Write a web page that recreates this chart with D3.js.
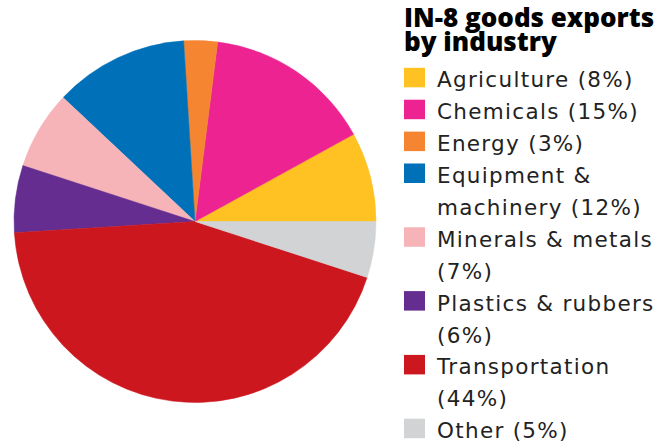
<!DOCTYPE html>
<html>
<head>
<meta charset="utf-8">
<script src="https://cdn.jsdelivr.net/npm/d3@7"></script>
<style>
  body { margin: 0; background: #fff; }
  svg { display: block; }
</style>
</head>
<body>
<div id="chart"></div>
<script>
const categories = ["Agriculture", "Chemicals", "Energy", "Equipment & machinery",
  "Minerals & metals", "Plastics & rubbers", "Transportation", "Other"];
const shares = [8, 15, 3, 12, 7, 6, 44, 5];
const colours = ["#FFC222", "#EC2390", "#F58530", "#0071B9",
  "#F6B4B9", "#642D8F", "#CC171E", "#D1D3D4"];
const titleLines = ["IN-8 goods exports", "by industry"];

const width = 672, height = 446;
const cx = 195, cy = 221.5, radius = 181;

const svg = d3.select("#chart").append("svg")
  .attr("width", width)
  .attr("height", height);

const items = categories.map((c, i) => ({ name: c, value: shares[i], col: colours[i] }));

// counter-clockwise from 3 o'clock
const pie = d3.pie()
  .value(d => d.value)
  .sort(null)
  .startAngle(Math.PI / 2)
  .endAngle(Math.PI / 2 - 2 * Math.PI);

const arc = d3.arc().innerRadius(0).outerRadius(radius);

svg.append("g")
  .attr("transform", "translate(" + cx + "," + cy + ")")
  .selectAll("path")
  .data(pie(items))
  .enter()
  .append("path")
  .attr("d", arc)
  .attr("fill", d => d.data.col)
  .attr("stroke", d => d.data.col)
  .attr("stroke-width", 0.5);

// title
const title = svg.append("text")
  .attr("x", 404)
  .attr("font-family", "'Open Sans', sans-serif")
  .attr("font-weight", 800)
  .attr("font-size", 26)
  .attr("fill", "#000");
titleLines.forEach((t, i) => {
  title.append("tspan").attr("x", 404).attr("y", 26.5 + i * 24).text(t);
});

// legend
const lineH = 31.9, textX = 437, maxW = 233;
const legend = svg.append("g");
let line = 0;
items.forEach(d => {
  const baseY = 87.3 + line * lineH;
  legend.append("rect")
    .attr("x", 404).attr("y", baseY - 19.5)
    .attr("width", 21).attr("height", 19.5)
    .attr("fill", d.col);
  const txt = legend.append("text")
    .attr("font-family", "'DejaVu Sans', sans-serif")
    .attr("font-size", 21.5)
    .attr("letter-spacing", 1.3)
    .attr("fill", "#222");
  const words = (d.name + " (" + d.value + "%)").split(" ");
  let tspan = txt.append("tspan").attr("x", textX).attr("y", baseY);
  let cur = [];
  words.forEach(w => {
    cur.push(w);
    tspan.text(cur.join(" "));
    if (tspan.node().getComputedTextLength() > maxW && cur.length > 1) {
      cur.pop();
      tspan.text(cur.join(" "));
      cur = [w];
      line++;
      tspan = txt.append("tspan").attr("x", textX).attr("y", 87.3 + line * lineH).text(w);
    }
  });
  line++;
});
</script>
</body>
</html>
